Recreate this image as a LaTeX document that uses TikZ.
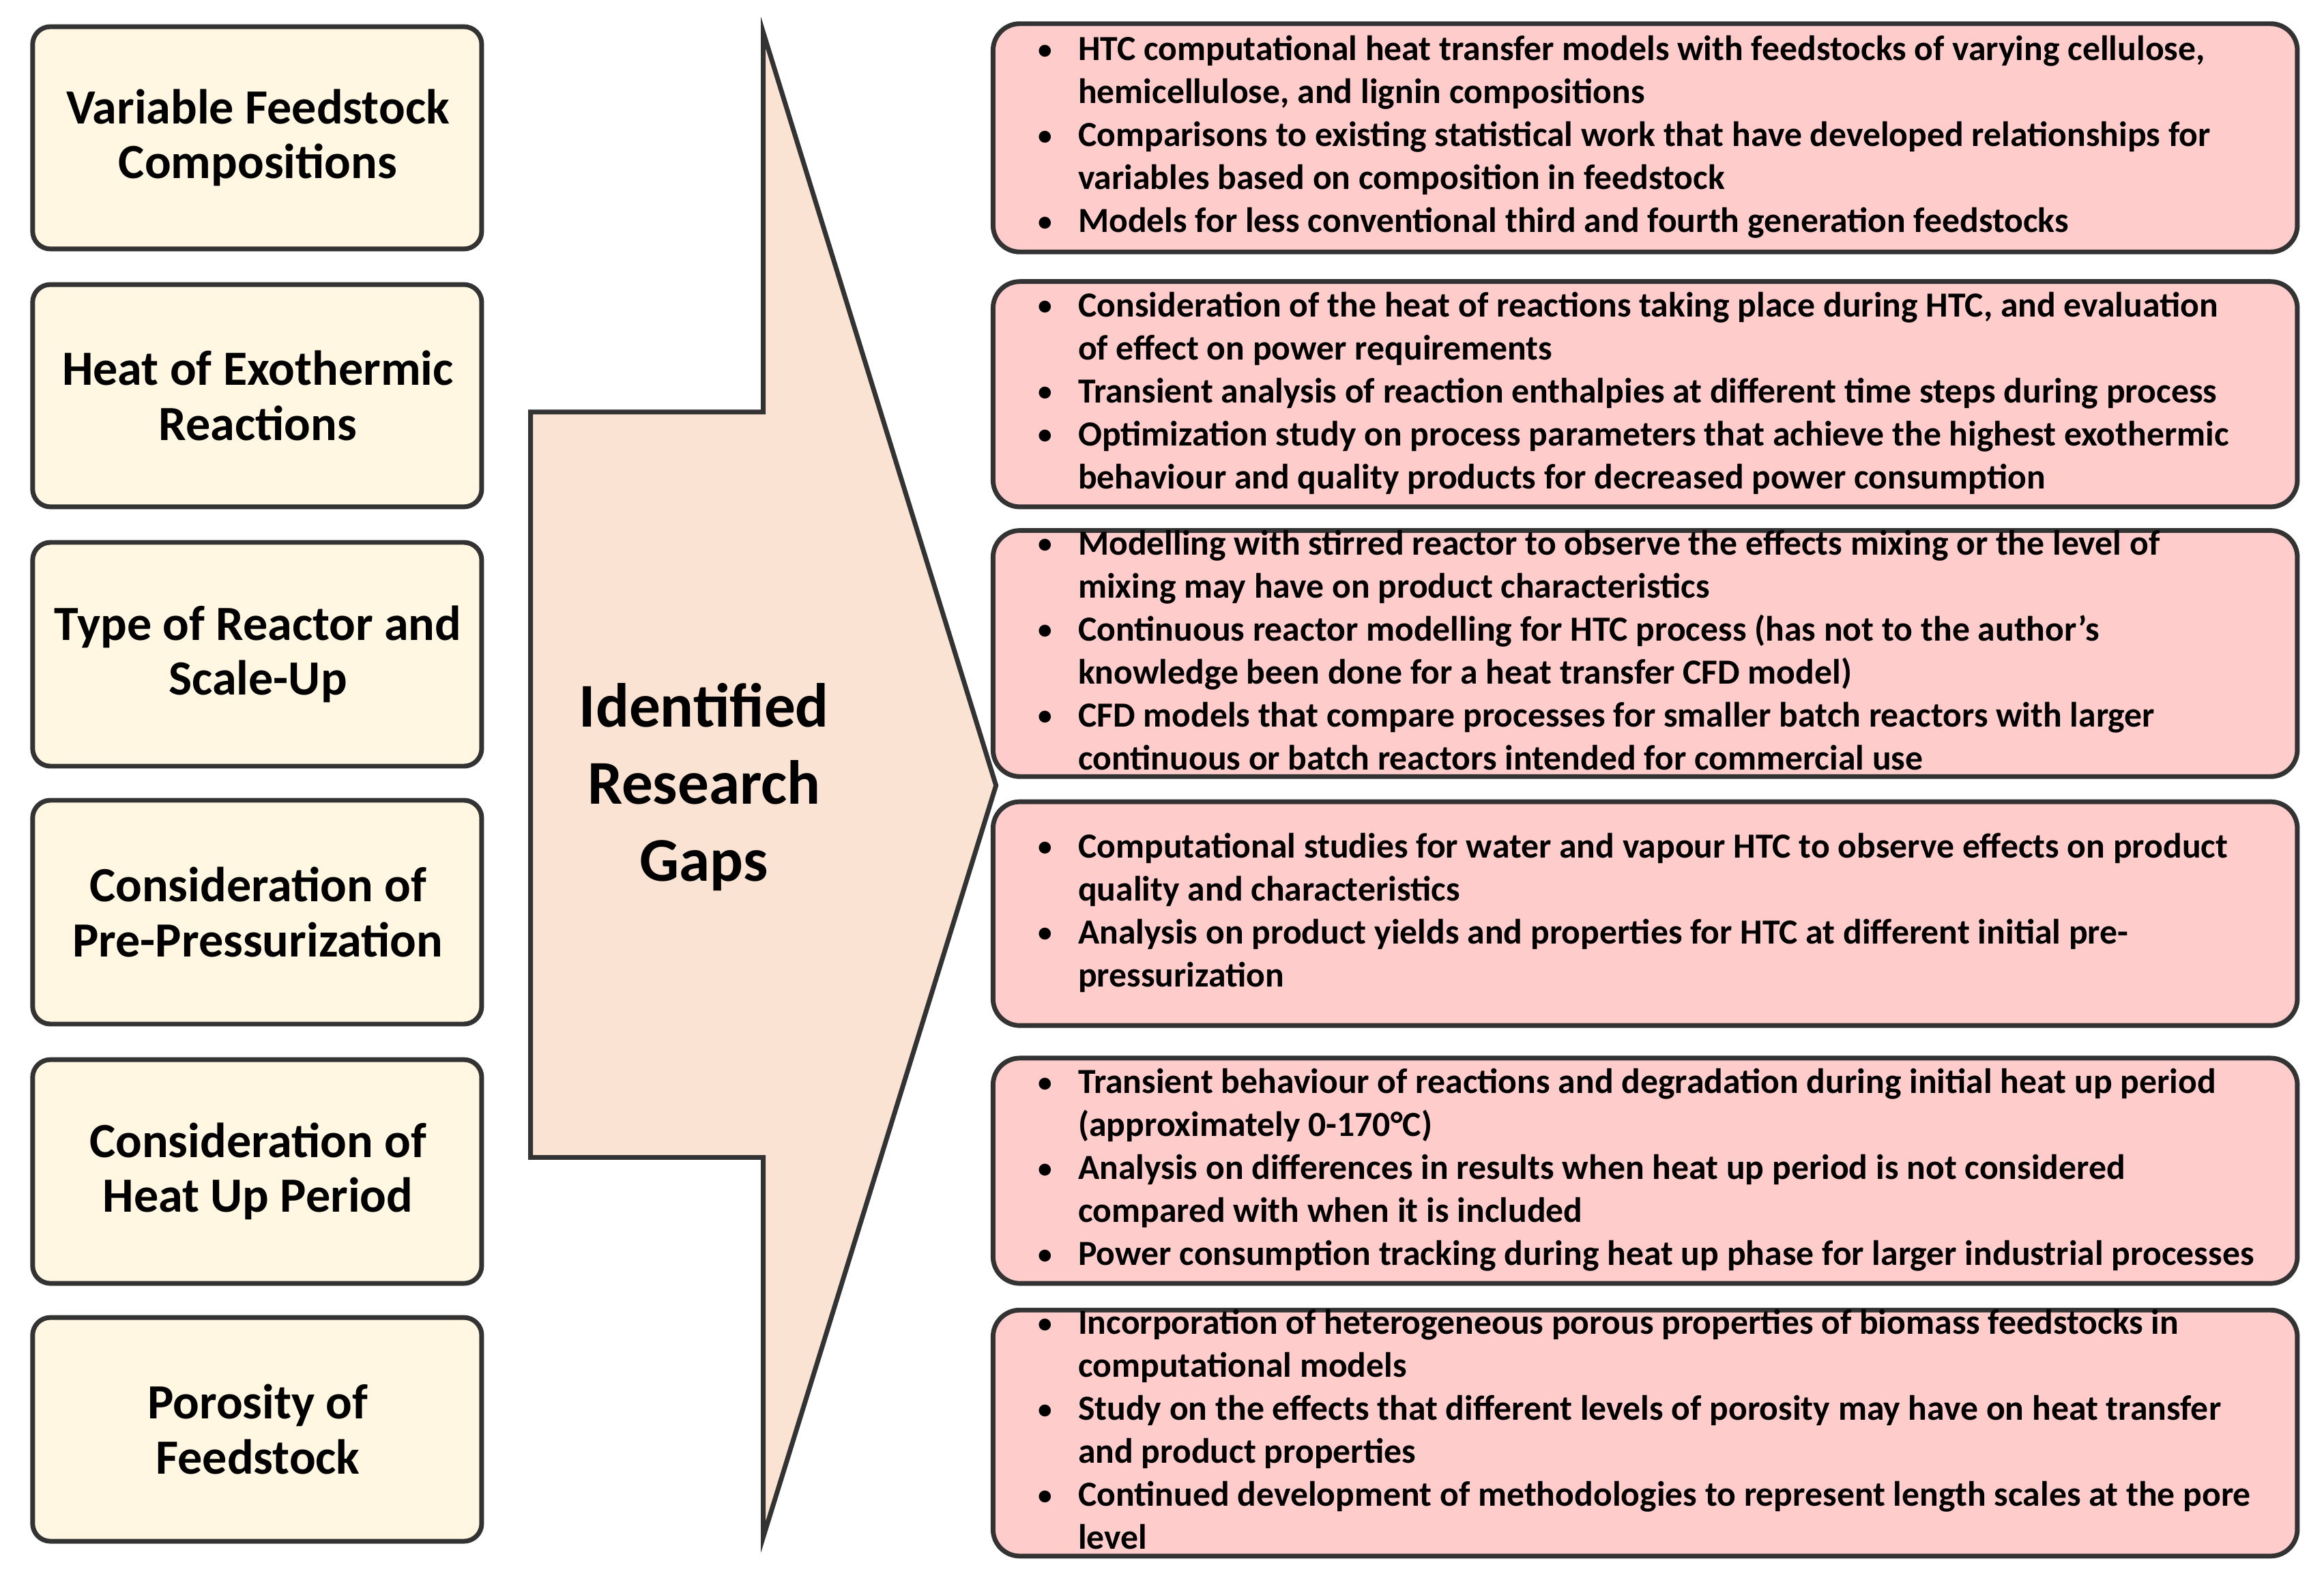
\documentclass[tikz,border=0pt]{standalone}
\usepackage{fontspec}
\setmainfont{Carlito}
\definecolor{lfill}{HTML}{FFF7E1}
\definecolor{afill}{HTML}{FBE3D3}
\definecolor{rfill}{HTML}{FFCCCC}
\definecolor{bord}{HTML}{333333}
\newcommand{\bl}{\raisebox{0.1ex}{\scalebox{0.8}{\textbullet}}}
\begin{document}
\begin{tikzpicture}[x=0.5pt,y=-0.5pt,
  lbox/.style={draw=bord,line width=1.6pt,fill=lfill,rounded corners=6pt},
  rbox/.style={draw=bord,line width=1.6pt,fill=rfill,rounded corners=9pt},
  ltext/.style={align=center,font=\fontsize{16.6}{18.5}\selectfont\bfseries},
  rtext/.style={anchor=west,inner sep=0pt,font=\fontsize{11.9}{14.5}\selectfont\bfseries}]
\useasboundingbox (0,0) rectangle (1568,1063);
% left boxes
\foreach \n/\ya/\yb/\t in {l1/18/168/{Variable Feedstock\\Compositions},
  l2/192/342/{Heat of Exothermic\\Reactions},
  l3/366/517/{Type of Reactor and\\Scale-Up},
  l4/540/691/{Consideration of\\Pre-Pressurization},
  l5/715/866/{Consideration of\\Heat Up Period},
  l6/889/1040/{Porosity of\\Feedstock}}{
  \draw[lbox] (22,\ya) rectangle (325,\yb);
  \node[ltext] (\n) at (174,{(\ya+\yb)/2}) {\t};
}
% arrow
\draw[draw=bord,line width=1.6pt,fill=afill,line join=miter]
  (358,278) -- (515,278) -- (515,22) -- (672,530) -- (515,1037) -- (515,781) -- (358,781) -- cycle;
\node[align=center,font=\fontsize{21}{26}\selectfont\bfseries] (gap) at (475,531) {Identified\\Research\\Gaps};
% right boxes
\def\rb#1#2#3#4{\draw[rbox] (670,#2) rectangle (1550,#3);
  \node[rtext] (#1) at (700,{(#2+#3)/2}) {\renewcommand\arraystretch{1}\begin{tabular}{@{}p{13.5pt}@{}l@{}}#4\end{tabular}};}
\rb{r1}{16}{170}{\bl & HTC computational heat transfer models with feedstocks of varying cellulose,\\
 & hemicellulose, and lignin compositions\\
\bl & Comparisons to existing statistical work that have developed relationships for\\
 & variables based on composition in feedstock\\
\bl & Models for less conventional third and fourth generation feedstocks}
\rb{r2}{190}{342}{\bl & Consideration of the heat of reactions taking place during HTC, and evaluation\\
 & of effect on power requirements\\
\bl & Transient analysis of reaction enthalpies at different time steps during process\\
\bl & Optimization study on process parameters that achieve the highest exothermic\\
 & behaviour and quality products for decreased power consumption}
\rb{r3}{358}{524}{\bl & Modelling with stirred reactor to observe the effects mixing or the level of\\
 & mixing may have on product characteristics\\
\bl & Continuous reactor modelling for HTC process (has not to the author’s\\
 & knowledge been done for a heat transfer CFD model)\\
\bl & CFD models that compare processes for smaller batch reactors with larger\\
 & continuous or batch reactors intended for commercial use}
\rb{r4}{541}{692}{\bl & Computational studies for water and vapour HTC to observe effects on product\\
 & quality and characteristics\\
\bl & Analysis on product yields and properties for HTC at different initial pre-\\
 & pressurization}
\rb{r5}{714}{866}{\bl & Transient behaviour of reactions and degradation during initial heat up period\\
 & (approximately 0-170°C)\\
\bl & Analysis on differences in results when heat up period is not considered\\
 & compared with when it is included\\
\bl & Power consumption tracking during heat up phase for larger industrial processes}
\rb{r6}{884}{1050}{\bl & Incorporation of heterogeneous porous properties of biomass feedstocks in\\
 & computational models\\
\bl & Study on the effects that different levels of porosity may have on heat transfer\\
 & and product properties\\
\bl & Continued development of methodologies to represent length scales at the pore\\
 & level}
\end{tikzpicture}
\end{document}
